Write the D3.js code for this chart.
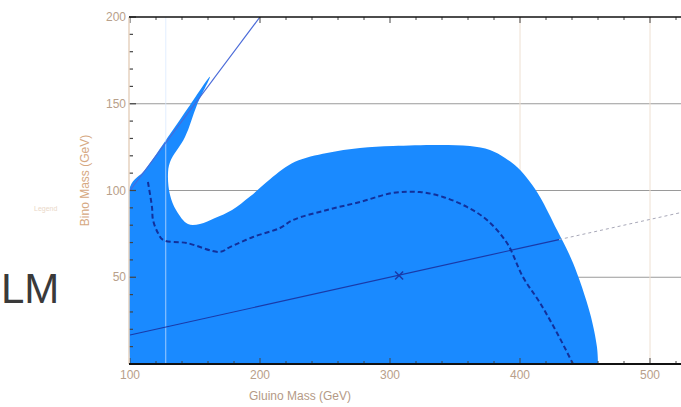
<!DOCTYPE html>
<html>
<head>
<meta charset="utf-8">
<script src="https://cdn.jsdelivr.net/npm/d3@7"></script>
<style>
  body { margin: 0; background: #fff; }
  svg { display: block; font-family: "Liberation Sans", Arial, sans-serif; }
</style>
</head>
<body>
<svg width="681" height="407"></svg>
<script>
// allowed region (outer boundary), gluino / bino masses in GeV
const regionGluino = [100, 100, 111.5, 129.2, 146.2, 161.5, 151.5, 142.3, 130.8, 129.2, 130.8, 135.4, 144.6, 153.8, 165.4, 178.5, 192.3, 207.7, 226.9, 251.5, 276.9, 302.3, 338.5, 361.5, 376.9, 388.5, 397.7, 407.7, 415.4, 428.5, 440.8, 453.8, 459.2, 460];
const regionBino   = [0, 102, 111.8, 130.8, 149.3, 165.5, 149.3, 130.8, 116.4, 108.9, 97.4, 88.8, 80.7, 80.7, 84.1, 88.8, 96.5, 106.5, 116.5, 121.6, 124.5, 125.6, 126.2, 125.6, 123.3, 118.7, 113.5, 104.9, 96.3, 77.2, 58.2, 29.4, 9.8, 0];

// dashed contour
const dashGluino = [113.8, 116.9, 117.7, 121.5, 125.4, 143.8, 169.2, 176.9, 194.6, 215.4, 225.4, 251.5, 276.9, 302.3, 323.1, 340.8, 359.2, 374.6, 390, 402.3, 415.4, 428.5, 440.8];
const dashBino   = [104.9, 90.5, 83.0, 75.5, 71.5, 69.7, 64.6, 67.4, 73.2, 78.4, 83.0, 88.8, 93.4, 98.6, 99.1, 96.3, 90.5, 83.0, 69.7, 50.1, 35.2, 17.9, 0];

// reference lines: bino = gluino, bino = gluino / 6
const equalLine = [[100, 100], [200, 200]];
const sixthLineSolid = [[100, 16.7], [430, 71.7]];
const sixthLineFaint = [[430, 71.7], [560, 93.3]];
const markerPoint = [307, 51];

const xTicks = [100, 200, 300, 400, 500];
const yTicks = [50, 100, 150, 200];
const yGrid = [50, 100, 150];
const xGrid = [400, 500];
const xExtraLine = 127.5;

const x = d3.scaleLinear().domain([100, 500]).range([130, 650]);
const y = d3.scaleLinear().domain([0, 200]).range([364, 17]);

const svg = d3.select('svg');
const pl = 129, pr = 681, pt = 17, pb = 364;

svg.append('clipPath').attr('id', 'plot')
  .append('rect').attr('x', pl).attr('y', pt)
  .attr('width', pr - pl).attr('height', pb - pt);

const plot = svg.append('g').attr('clip-path', 'url(#plot)');

// grid under the region
plot.selectAll('.hgrid').data(yGrid).join('line')
  .attr('x1', pl).attr('x2', pr)
  .attr('y1', d => y(d)).attr('y2', d => y(d))
  .attr('stroke', '#9a9a9a').attr('stroke-width', 1.2);
plot.selectAll('.vgrid').data(xGrid).join('line')
  .attr('x1', d => x(d)).attr('x2', d => x(d))
  .attr('y1', pt).attr('y2', pb)
  .attr('stroke', '#eee0d2').attr('stroke-width', 1);

// filled region
const region = regionGluino.map((g, i) => [g, regionBino[i]]);
plot.append('path')
  .datum(region)
  .attr('fill', '#1a8aff')
  .attr('d', d3.line().x(d => x(d[0])).y(d => y(d[1])).curve(d3.curveCatmullRom.alpha(0.5)));

// faint vertical line over region
plot.append('line')
  .attr('x1', x(xExtraLine)).attr('x2', x(xExtraLine))
  .attr('y1', pt).attr('y2', pb)
  .attr('stroke', '#d8e8ff').attr('stroke-width', 1).attr('opacity', 0.7);

const line = d3.line().x(d => x(d[0])).y(d => y(d[1]));

plot.append('path').datum(equalLine)
  .attr('d', line).attr('fill', 'none')
  .attr('stroke', '#4a6ad8').attr('stroke-width', 1.2);
plot.append('path').datum(sixthLineSolid)
  .attr('d', line).attr('fill', 'none')
  .attr('stroke', '#1a3aa8').attr('stroke-width', 1.2);
plot.append('path').datum(sixthLineFaint)
  .attr('d', line).attr('fill', 'none')
  .attr('stroke', '#a8a8b8').attr('stroke-width', 1)
  .attr('stroke-dasharray', '3,3');

const dash = dashGluino.map((g, i) => [g, dashBino[i]]);
plot.append('path').datum(dash)
  .attr('d', d3.line().x(d => x(d[0])).y(d => y(d[1])).curve(d3.curveCatmullRom.alpha(0.5)))
  .attr('fill', 'none')
  .attr('stroke', '#12309a').attr('stroke-width', 2)
  .attr('stroke-dasharray', '5,3');

// marker
const mx = x(markerPoint[0]), my = y(markerPoint[1]);
plot.append('path')
  .attr('d', `M${mx - 4},${my - 4}L${mx + 4},${my + 4}M${mx - 4},${my + 4}L${mx + 4},${my - 4}`)
  .attr('stroke', '#1a3aa8').attr('stroke-width', 1.5);

// axes
const tickColor = '#444';
const xMinor = d3.range(100, 560, 20);
svg.selectAll('.bt').data(xMinor).join('line')
  .attr('x1', d => x(d)).attr('x2', d => x(d))
  .attr('y1', pb).attr('y2', d => pb - (d % 100 === 0 ? 6 : 3))
  .attr('stroke', tickColor);
svg.selectAll('.tt').data(xMinor).join('line')
  .attr('x1', d => x(d)).attr('x2', d => x(d))
  .attr('y1', pt).attr('y2', d => pt + (d % 100 === 0 ? 6 : 3))
  .attr('stroke', tickColor);

const yMinor = d3.range(0, 210, 10);
svg.selectAll('.lt').data(yMinor).join('line')
  .attr('x1', pl).attr('x2', d => pl + (d % 50 === 0 ? 7 : 4))
  .attr('y1', d => y(d)).attr('y2', d => y(d))
  .attr('stroke', tickColor).attr('stroke-width', 1.2);

svg.append('line').attr('x1', pl).attr('x2', pl)
  .attr('y1', pt).attr('y2', pb)
  .attr('stroke', '#e6d2bf').attr('stroke-width', 1.5);
svg.append('line').attr('x1', pl).attr('x2', pr)
  .attr('y1', pb).attr('y2', pb)
  .attr('stroke', '#111').attr('stroke-width', 2);
svg.append('line').attr('x1', pl).attr('x2', pr)
  .attr('y1', pt).attr('y2', pt)
  .attr('stroke', '#111').attr('stroke-width', 1.5);

const labColor = '#b8a08a';
svg.selectAll('.xl').data(xTicks).join('text')
  .attr('x', d => x(d)).attr('y', pb + 15)
  .attr('text-anchor', 'middle')
  .attr('font-size', 12).attr('fill', labColor)
  .text(d => d);
svg.selectAll('.yl').data(yTicks).join('text')
  .attr('x', pl - 3).attr('y', d => y(d) + 4)
  .attr('text-anchor', 'end')
  .attr('font-size', 12).attr('fill', labColor)
  .text(d => d);

svg.append('text')
  .attr('x', 300).attr('y', 400)
  .attr('text-anchor', 'middle')
  .attr('font-size', 12).attr('fill', '#b49a86')
  .text('Gluino Mass (GeV)');
svg.append('text')
  .attr('transform', `translate(89,${(pt + pb) / 2 - 10}) rotate(-90)`)
  .attr('text-anchor', 'middle')
  .attr('font-size', 12).attr('fill', '#d6a882')
  .text('Bino Mass (GeV)');

svg.append('text')
  .attr('x', 34).attr('y', 211)
  .attr('font-size', 7).attr('fill', '#ead8c8')
  .text('Legend');

svg.append('text')
  .attr('x', 1).attr('y', 303)
  .attr('font-size', 42).attr('fill', '#3a3a3a')
  .text('LM');
</script>
</body>
</html>
